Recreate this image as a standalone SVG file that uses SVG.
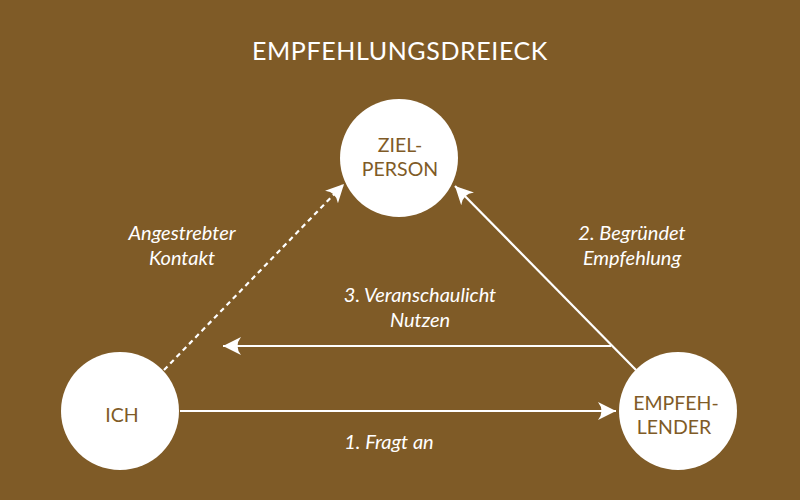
<svg xmlns="http://www.w3.org/2000/svg" width="800" height="500" viewBox="0 0 800 500">
<style>
.t{font-family:Lato,"Open Sans","Liberation Sans",sans-serif;fill:#fff;text-anchor:middle}
.title{font-size:25px;letter-spacing:0.6px}
.n{font-family:Lato,"Open Sans","Liberation Sans",sans-serif;fill:#7f5b27;font-size:19.5px;text-anchor:middle}
.l{font-size:20px;font-style:italic}
.c{stroke:#fff;stroke-width:2.2;fill:none}
.d{stroke-dasharray:5 4}
</style>
<defs>
<marker id="ah" viewBox="0 0 20 20" refX="18" refY="10" markerWidth="20" markerHeight="20" markerUnits="userSpaceOnUse" orient="auto">
<path d="M18,10 L0,1 Q7,10 0,19 Z" fill="#fff"/>
</marker>
</defs>
<rect width="800" height="500" fill="#7f5b27"/>
<text class="t title" x="400" y="60">EMPFEHLUNGSDREIECK</text>
<g id="connectors">
<line class="c" x1="180" y1="411" x2="616" y2="411" marker-end="url(#ah)"/>
<line class="c" x1="611" y1="346" x2="223" y2="346" marker-end="url(#ah)"/>
<line class="c" x1="636" y1="370" x2="455" y2="186" marker-end="url(#ah)"/>
<line class="c d" x1="164" y1="370" x2="344" y2="184" marker-end="url(#ah)"/>
</g>
<g id="zielperson">
<circle cx="399" cy="158" r="59" fill="#fff"/>
<text class="n" x="400" y="152">ZIEL-</text>
<text class="n" x="400" y="176">PERSON</text>
</g>
<g id="ich">
<circle cx="120" cy="411" r="59" fill="#fff"/>
<text class="n" x="122" y="422">ICH</text>
</g>
<g id="empfehlender">
<circle cx="678" cy="411" r="59" fill="#fff"/>
<text class="n" x="676" y="410">EMPFEH-</text>
<text class="n" x="674" y="434">LENDER</text>
</g>
<g id="labels">
<text class="t l" x="182" y="240">Angestrebter</text>
<text class="t l" x="182" y="265">Kontakt</text>
<text class="t l" x="632" y="240">2. Begründet</text>
<text class="t l" x="632" y="265">Empfehlung</text>
<text class="t l" x="420" y="302">3. Veranschaulicht</text>
<text class="t l" x="420" y="327">Nutzen</text>
<text class="t l" x="389" y="449">1. Fragt an</text>
</g>
</svg>
